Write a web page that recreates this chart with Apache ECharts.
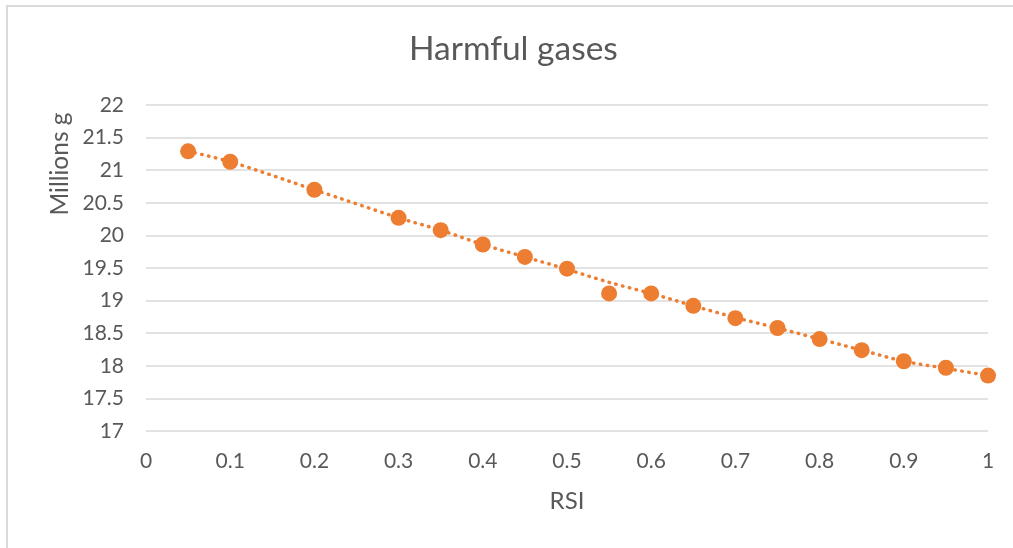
<!DOCTYPE html>
<html>
<head>
<meta charset="utf-8">
<script src="https://cdn.jsdelivr.net/npm/echarts@6/dist/echarts.min.js"></script>
<style>html,body{margin:0;padding:0;background:#fff}#c{width:1013px;height:548px}</style>
</head>
<body>
<div id="c"></div>
<script>
const rsi = [0.05, 0.1, 0.2, 0.3, 0.35, 0.4, 0.45, 0.5, 0.55, 0.6, 0.65, 0.7, 0.75, 0.8, 0.85, 0.9, 0.95, 1.0];
const gases = [21.29, 21.13, 20.70, 20.27, 20.08, 19.86, 19.67, 19.49, 19.11, 19.11, 18.92, 18.73, 18.58, 18.41, 18.24, 18.07, 17.97, 17.85];
const trendX = [0.05, 0.1, 0.2, 0.3, 0.35, 0.4, 0.45, 0.5, 0.55, 0.6, 0.65, 0.7, 0.75, 0.8, 0.85, 0.9, 0.95, 1.0];
const trendY = [21.29, 21.13, 20.70, 20.27, 20.08, 19.86, 19.67, 19.48, 19.28, 19.11, 18.92, 18.74, 18.58, 18.41, 18.24, 18.07, 17.96, 17.85];
const xTicks = ['0', '0.1', '0.2', '0.3', '0.4', '0.5', '0.6', '0.7', '0.8', '0.9', '1'];
const yTicks = ['17', '17.5', '18', '18.5', '19', '19.5', '20', '20.5', '21', '21.5', '22'];

const FONT = 'Lato';
const TXT = '#595959';
const chart = echarts.init(document.getElementById('c'), null, {renderer: 'canvas'});
chart.setOption({
  animation: false,
  backgroundColor: '#fff',
  title: {
    text: 'Harmful gases', left: 409, top: 32, padding: 0,
    textStyle: {fontFamily: FONT, fontSize: 33.5, fontWeight: 'normal', color: TXT}
  },
  grid: {left: 146, right: 25, top: 105, bottom: 117},
  xAxis: {
    type: 'value', min: 0, max: 1, interval: 0.1,
    name: 'RSI', nameLocation: 'middle', nameGap: 58,
    nameTextStyle: {fontFamily: FONT, fontSize: 24, color: TXT},
    axisLine: {show: false}, axisTick: {show: false},
    splitLine: {show: false},
    axisLabel: {fontFamily: FONT, fontSize: 21, color: TXT, margin: 20,
      formatter: v => xTicks[Math.round(v * 10)]}
  },
  yAxis: {
    type: 'value', min: 17, max: 22, interval: 0.5,
    axisLine: {show: false}, axisTick: {show: false},
    splitLine: {lineStyle: {color: '#d9d9d9', width: 1.5}},
    axisLabel: {fontFamily: FONT, fontSize: 21, color: TXT, margin: 22,
      formatter: v => yTicks[Math.round((v - 17) * 2)]}
  },
  graphic: [
    {type: 'rect', shape: {x: 7, y: 6, width: 1020, height: 560}, style: {fill: 'none', stroke: '#d9d9d9', lineWidth: 2}, silent: true},
    {type: 'text', x: 60, y: 164, rotation: Math.PI / 2,
      style: {text: 'Millions g', fontFamily: FONT, fontSize: 24.5, fill: TXT, align: 'center', verticalAlign: 'middle'}}
  ],
  series: [
    {
      type: 'line', data: trendX.map((x, i) => [x, trendY[i]]), smooth: 0.3,
      symbol: 'none', z: 1,
      lineStyle: {color: '#ED7D31', width: 3.5, type: [0.5, 6.5], cap: 'round'}
    },
    {
      type: 'scatter', data: rsi.map((x, i) => [x, gases[i]]),
      symbol: 'circle', symbolSize: 16, z: 2,
      itemStyle: {color: '#ED7D31', opacity: 1}
    }
  ]
});
</script>
</body>
</html>
